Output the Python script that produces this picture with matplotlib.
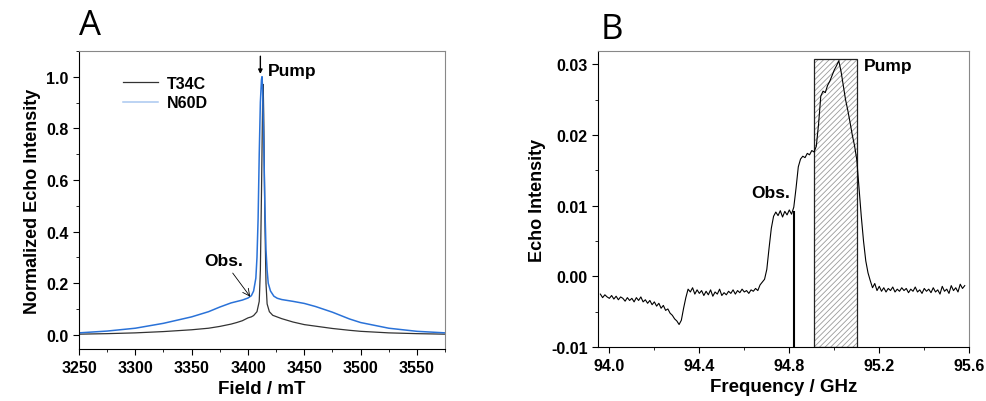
import matplotlib.pyplot as plt
from matplotlib.patches import Rectangle
from matplotlib.ticker import MultipleLocator

plt.rcParams['font.family'] = ['Liberation Sans', 'DejaVu Sans']
plt.rcParams['hatch.linewidth'] = 0.6

# panel A: field sweep spectra
field_t34c = [3250, 3275, 3300, 3325, 3350, 3365, 3375, 3385, 3390, 3395, 3400, 3403, 3405,
              3408, 3410, 3411, 3412, 3413, 3413.5, 3414, 3415, 3416, 3417, 3419, 3422, 3430,
              3440, 3450, 3465, 3475, 3490, 3500, 3525, 3550, 3575]
echo_t34c = [0.003, 0.005, 0.008, 0.013, 0.020, 0.026, 0.033, 0.042, 0.048, 0.055, 0.066, 0.070,
             0.075, 0.090, 0.130, 0.250, 0.550, 0.900, 0.970, 0.850, 0.450, 0.200, 0.120, 0.090,
             0.076, 0.063, 0.050, 0.040, 0.031, 0.025, 0.018, 0.014, 0.008, 0.005, 0.003]

field_n60d = [3250, 3275, 3300, 3325, 3350, 3365, 3375, 3385, 3395, 3400, 3403, 3405, 3407,
              3408, 3409, 3410, 3411, 3412, 3412.5, 3413, 3414, 3415, 3416, 3417, 3418, 3420,
              3423, 3426, 3430, 3440, 3450, 3460, 3475, 3490, 3500, 3525, 3550, 3575]
echo_n60d = [0.008, 0.015, 0.026, 0.045, 0.070, 0.090, 0.108, 0.124, 0.135, 0.143, 0.152, 0.170,
             0.220, 0.300, 0.450, 0.700, 0.900, 0.990, 1.000, 0.950, 0.750, 0.500, 0.330, 0.250,
             0.200, 0.170, 0.150, 0.142, 0.137, 0.130, 0.122, 0.110, 0.088, 0.062, 0.048, 0.026,
             0.014, 0.008]

# panel B: frequency sweep
freq = [93.96, 93.97, 93.98, 93.99, 94.00, 94.01, 94.02, 94.03, 94.04, 94.05, 94.06, 94.07,
        94.08, 94.09, 94.10, 94.11, 94.12, 94.13, 94.14, 94.15, 94.16, 94.17, 94.18, 94.19,
        94.20, 94.21, 94.22, 94.23, 94.24, 94.25, 94.26, 94.27, 94.28, 94.29, 94.30, 94.31,
        94.32, 94.33, 94.34, 94.35, 94.36, 94.37, 94.38, 94.39, 94.40, 94.41, 94.42, 94.43,
        94.44, 94.45, 94.46, 94.47, 94.48, 94.49, 94.50, 94.51, 94.52, 94.53, 94.54, 94.55,
        94.56, 94.57, 94.58, 94.59, 94.60, 94.61, 94.62, 94.63, 94.64, 94.65, 94.66, 94.67,
        94.68, 94.69, 94.70, 94.71, 94.72, 94.73, 94.74, 94.75, 94.76, 94.77, 94.78, 94.79,
        94.80, 94.81, 94.82, 94.83, 94.84, 94.85, 94.86, 94.87, 94.88, 94.89, 94.90, 94.91,
        94.92, 94.93, 94.94, 94.95, 94.96, 94.97, 94.98, 94.99, 95.00, 95.01, 95.02, 95.03,
        95.04, 95.05, 95.06, 95.07, 95.08, 95.09, 95.10, 95.11, 95.12, 95.13, 95.14, 95.15,
        95.16, 95.17, 95.18, 95.19, 95.20, 95.21, 95.22, 95.23, 95.24, 95.25, 95.26, 95.27,
        95.28, 95.29, 95.30, 95.31, 95.32, 95.33, 95.34, 95.35, 95.36, 95.37, 95.38, 95.39,
        95.40, 95.41, 95.42, 95.43, 95.44, 95.45, 95.46, 95.47, 95.48, 95.49, 95.50, 95.51,
        95.52, 95.53, 95.54, 95.55, 95.56, 95.57, 95.58]
echo = [-0.0025, -0.0030, -0.0026, -0.0029, -0.0031, -0.0027, -0.0032, -0.0028, -0.0033, -0.0029,
        -0.0031, -0.0035, -0.0030, -0.0034, -0.0031, -0.0036, -0.0030, -0.0034, -0.0029, -0.0036,
        -0.0033, -0.0038, -0.0034, -0.0040, -0.0036, -0.0042, -0.0038, -0.0045, -0.0041, -0.0048,
        -0.0046, -0.0052, -0.0055, -0.0060, -0.0063, -0.0068, -0.0062, -0.0045, -0.0030, -0.0018,
        -0.0022, -0.0016, -0.0025, -0.0019, -0.0024, -0.0020, -0.0027, -0.0021, -0.0026, -0.0019,
        -0.0028, -0.0022, -0.0025, -0.0018, -0.0027, -0.0023, -0.0026, -0.0021, -0.0024, -0.0019,
        -0.0025, -0.0020, -0.0023, -0.0018, -0.0022, -0.0020, -0.0024, -0.0019, -0.0021, -0.0017,
        -0.0020, -0.0012, -0.0008, -0.0004, 0.0010, 0.0040, 0.0068, 0.0085, 0.0091, 0.0086,
        0.0093, 0.0084, 0.0092, 0.0087, 0.0094, 0.0088, 0.0098, 0.0125, 0.0155, 0.0166,
        0.0170, 0.0168, 0.0174, 0.0172, 0.0178, 0.0176, 0.0184, 0.0215, 0.0255, 0.0262,
        0.0260, 0.0270, 0.0276, 0.0284, 0.0292, 0.0298, 0.0305, 0.0290, 0.0270, 0.0250,
        0.0235, 0.0218, 0.0200, 0.0185, 0.0165, 0.0125, 0.0085, 0.0050, 0.0022, 0.0005,
        -0.0006, -0.0016, -0.0010, -0.0020, -0.0014, -0.0021, -0.0016, -0.0022, -0.0017, -0.0020,
        -0.0015, -0.0022, -0.0018, -0.0021, -0.0016, -0.0020, -0.0017, -0.0023, -0.0018, -0.0021,
        -0.0015, -0.0022, -0.0019, -0.0024, -0.0017, -0.0021, -0.0018, -0.0023, -0.0016, -0.0022,
        -0.0019, -0.0025, -0.0014, -0.0021, -0.0018, -0.0024, -0.0013, -0.0020, -0.0016, -0.0022,
        -0.0011, -0.0017, -0.0013]

pump_band = (94.91, 95.10)
pump_top = 0.0307
obs_freq = 94.82
obs_level = 0.0091

fig = plt.figure(figsize=(9.87, 4.02), dpi=100)
axA = fig.add_axes([0.080, 0.129, 0.371, 0.742])
axB = fig.add_axes([0.606, 0.134, 0.376, 0.737])

for ax in (axA, axB):
    for side in ('top', 'right'):
        ax.spines[side].set_color('#888888')
        ax.spines[side].set_linewidth(0.8)
    ax.tick_params(direction='out', labelsize=11.5, length=4)
    ax.tick_params(which='minor', direction='out', length=2.5)

# ---- panel A
axA.plot(field_t34c, echo_t34c, color='#333333', lw=0.9, label='T34C')
axA.plot(field_n60d, echo_n60d, color='#2a72d8', lw=1.1, label='N60D')
axA.xaxis.set_minor_locator(MultipleLocator(25))
axA.yaxis.set_minor_locator(MultipleLocator(0.1))
xt = [3250, 3300, 3350, 3400, 3450, 3500, 3550]
yt = [0.0, 0.2, 0.4, 0.6, 0.8, 1.0]
axA.set_xticks(xt)
axA.set_xticklabels([str(v) for v in xt], fontweight='bold')
axA.set_yticks(yt)
axA.set_yticklabels([f'{v:.1f}' for v in yt], fontweight='bold')
axA.set_xlim(3250, 3575)
axA.set_ylim(-0.055, 1.10)
axA.set_xlabel('Field / mT', fontsize=13.5, fontweight='bold')
axA.set_ylabel('Normalized Echo Intensity', fontsize=13, fontweight='bold')
leg = axA.legend(loc='upper left', bbox_to_anchor=(0.08, 0.965), frameon=False,
                 handlelength=2.2, handletextpad=0.6, labelspacing=0.3,
                 prop={'weight': 'bold', 'size': 11.5})
leg.get_lines()[1].set_color('#a9c8f0')
axA.annotate('', xy=(3411, 1.0), xytext=(3411, 1.09),
             arrowprops=dict(arrowstyle='-|>', color='black', lw=1, mutation_scale=6))
axA.text(3418, 1.025, 'Pump', fontsize=12.5, fontweight='bold', va='center')
axA.annotate('Obs.', xy=(3402, 0.148), xytext=(3361, 0.288), fontsize=12.5, fontweight='bold',
             va='center',
             arrowprops=dict(arrowstyle='->', color='black', lw=0.6, shrinkA=2, shrinkB=0))
fig.text(0.091, 0.935, 'A', fontsize=25, ha='center', va='center', family='Open Sans')

# ---- panel B
axB.add_patch(Rectangle((pump_band[0], -0.01), pump_band[1] - pump_band[0], pump_top + 0.01,
                        facecolor='white', edgecolor='#9a9a9a', hatch='//////', lw=0))
axB.add_patch(Rectangle((pump_band[0], -0.01), pump_band[1] - pump_band[0], pump_top + 0.01,
                        fill=False, edgecolor='#222222', lw=0.9))
axB.plot(freq, echo, color='black', lw=0.8)
axB.plot([obs_freq, obs_freq], [-0.01, obs_level], color='black', lw=1.5)
axB.set_xlim(93.95, 95.6)
axB.set_ylim(-0.01, 0.0319)
axB.set_xticks([94.0, 94.4, 94.8, 95.2, 95.6])
axB.set_xticklabels(['94.0', '94.4', '94.8', '95.2', '95.6'], fontweight='bold')
axB.xaxis.set_minor_locator(MultipleLocator(0.2))
axB.set_yticks([-0.01, 0.0, 0.01, 0.02, 0.03])
axB.set_yticklabels(['-0.01', '0.00', '0.01', '0.02', '0.03'], fontweight='bold')
axB.yaxis.set_minor_locator(MultipleLocator(0.005))
axB.set_xlabel('Frequency / GHz', fontsize=13.5, fontweight='bold')
axB.set_ylabel('Echo Intensity', fontsize=13, fontweight='bold')
axB.text(94.63, 0.0112, 'Obs.', fontsize=12.5, fontweight='bold')
axB.text(95.13, 0.0298, 'Pump', fontsize=12.5, fontweight='bold', va='center')
fig.text(0.620, 0.925, 'B', fontsize=25, ha='center', va='center', family='Open Sans')

fig.savefig('out.png', dpi=100)
